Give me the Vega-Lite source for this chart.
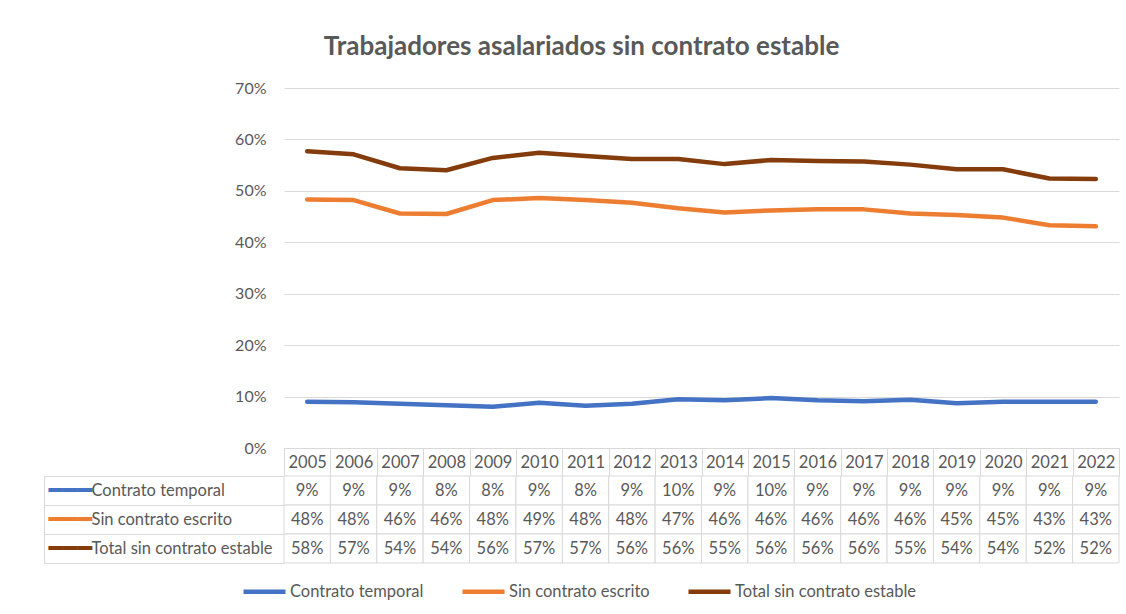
{
  "$schema": "https://vega.github.io/schema/vega-lite/v6.json",
  "padding": {"left": 43, "top": 34, "right": 8, "bottom": 5},
  "background": "white",
  "title": {"text": "Trabajadores asalariados sin contrato estable", "font": "Lato", "fontSize": 26, "fontWeight": "bold", "color": "#595959", "anchor": "middle", "offset": 20},
  "config": {"font": "Lato", "view": {"stroke": null}},
  "datasets": {
    "rows": [
      {"year": 2005, "series": "Contrato temporal", "value": 0.090},
      {"year": 2006, "series": "Contrato temporal", "value": 0.089},
      {"year": 2007, "series": "Contrato temporal", "value": 0.086},
      {"year": 2008, "series": "Contrato temporal", "value": 0.083},
      {"year": 2009, "series": "Contrato temporal", "value": 0.080},
      {"year": 2010, "series": "Contrato temporal", "value": 0.088},
      {"year": 2011, "series": "Contrato temporal", "value": 0.082},
      {"year": 2012, "series": "Contrato temporal", "value": 0.086},
      {"year": 2013, "series": "Contrato temporal", "value": 0.095},
      {"year": 2014, "series": "Contrato temporal", "value": 0.093},
      {"year": 2015, "series": "Contrato temporal", "value": 0.097},
      {"year": 2016, "series": "Contrato temporal", "value": 0.093},
      {"year": 2017, "series": "Contrato temporal", "value": 0.091},
      {"year": 2018, "series": "Contrato temporal", "value": 0.094},
      {"year": 2019, "series": "Contrato temporal", "value": 0.087},
      {"year": 2020, "series": "Contrato temporal", "value": 0.090},
      {"year": 2021, "series": "Contrato temporal", "value": 0.090},
      {"year": 2022, "series": "Contrato temporal", "value": 0.090},
      {"year": 2005, "series": "Sin contrato escrito", "value": 0.483},
      {"year": 2006, "series": "Sin contrato escrito", "value": 0.482},
      {"year": 2007, "series": "Sin contrato escrito", "value": 0.456},
      {"year": 2008, "series": "Sin contrato escrito", "value": 0.455},
      {"year": 2009, "series": "Sin contrato escrito", "value": 0.482},
      {"year": 2010, "series": "Sin contrato escrito", "value": 0.486},
      {"year": 2011, "series": "Sin contrato escrito", "value": 0.482},
      {"year": 2012, "series": "Sin contrato escrito", "value": 0.477},
      {"year": 2013, "series": "Sin contrato escrito", "value": 0.466},
      {"year": 2014, "series": "Sin contrato escrito", "value": 0.458},
      {"year": 2015, "series": "Sin contrato escrito", "value": 0.462},
      {"year": 2016, "series": "Sin contrato escrito", "value": 0.464},
      {"year": 2017, "series": "Sin contrato escrito", "value": 0.464},
      {"year": 2018, "series": "Sin contrato escrito", "value": 0.456},
      {"year": 2019, "series": "Sin contrato escrito", "value": 0.453},
      {"year": 2020, "series": "Sin contrato escrito", "value": 0.448},
      {"year": 2021, "series": "Sin contrato escrito", "value": 0.433},
      {"year": 2022, "series": "Sin contrato escrito", "value": 0.431},
      {"year": 2005, "series": "Total sin contrato estable", "value": 0.577},
      {"year": 2006, "series": "Total sin contrato estable", "value": 0.571},
      {"year": 2007, "series": "Total sin contrato estable", "value": 0.544},
      {"year": 2008, "series": "Total sin contrato estable", "value": 0.540},
      {"year": 2009, "series": "Total sin contrato estable", "value": 0.564},
      {"year": 2010, "series": "Total sin contrato estable", "value": 0.574},
      {"year": 2011, "series": "Total sin contrato estable", "value": 0.568},
      {"year": 2012, "series": "Total sin contrato estable", "value": 0.562},
      {"year": 2013, "series": "Total sin contrato estable", "value": 0.562},
      {"year": 2014, "series": "Total sin contrato estable", "value": 0.552},
      {"year": 2015, "series": "Total sin contrato estable", "value": 0.560},
      {"year": 2016, "series": "Total sin contrato estable", "value": 0.558},
      {"year": 2017, "series": "Total sin contrato estable", "value": 0.557},
      {"year": 2018, "series": "Total sin contrato estable", "value": 0.551},
      {"year": 2019, "series": "Total sin contrato estable", "value": 0.542},
      {"year": 2020, "series": "Total sin contrato estable", "value": 0.542},
      {"year": 2021, "series": "Total sin contrato estable", "value": 0.524},
      {"year": 2022, "series": "Total sin contrato estable", "value": 0.523}
    ]
  },
  "data": {"name": "rows"},
  "bounds": "flush",
  "spacing": 28,
  "vconcat": [
    {
      "width": 835,
      "height": 360,
      "mark": {"type": "line", "strokeWidth": 4.5, "strokeCap": "round", "strokeJoin": "round"},
      "encoding": {
        "x": {
          "field": "year", "type": "ordinal", "bandPosition": 0.5,
          "scale": {"type": "band", "paddingInner": 0, "paddingOuter": 0},
          "axis": {"title": null, "labelAngle": 0, "domainColor": "#d9d9d9", "tickColor": "#d9d9d9", "tickSize": 28, "tickBand": "extent", "labelPadding": -22, "labelFontSize": 16.5, "labelColor": "#595959", "grid": false}
        },
        "y": {
          "field": "value", "type": "quantitative",
          "scale": {"domain": [0, 0.7]},
          "axis": {"title": null, "format": ".0%", "values": [0, 0.1, 0.2, 0.3, 0.4, 0.5, 0.6, 0.7], "domain": false, "ticks": false, "labelPadding": 18, "labelFontSize": 16, "labelColor": "#595959", "gridColor": "#d9d9d9", "gridWidth": 1}
        },
        "color": {
          "field": "series", "type": "nominal",
          "scale": {"domain": ["Contrato temporal", "Sin contrato escrito", "Total sin contrato estable"], "range": ["#4472C4", "#ED7D31", "#843C0C"]},
          "legend": {"orient": "none", "legendX": -43, "legendY": 480, "direction": "horizontal", "title": null, "symbolType": "stroke", "symbolSize": 1764, "symbolStrokeWidth": 4.5, "labelFont": "Lato", "labelFontSize": 16.5, "labelColor": "#595959", "columnPadding": 29, "labelOffset": 2, "labelLimit": 0}
        }
      }
    },
    {
      "width": 835,
      "height": 87,
      "resolve": {"axis": {"y": "independent"}},
      "layer": [
        {
          "mark": {"type": "rect", "fill": "white", "stroke": "#d9d9d9", "strokeWidth": 1},
          "encoding": {
            "x": {"field": "year", "type": "ordinal", "scale": {"type": "band", "paddingInner": 0, "paddingOuter": 0}, "axis": null},
            "y": {
              "field": "series", "type": "nominal",
              "scale": {"domain": ["Contrato temporal", "Sin contrato escrito", "Total sin contrato estable"], "paddingInner": 0, "paddingOuter": 0},
              "axis": {"orient": "left", "offset": 240, "title": null, "domainColor": "#d9d9d9", "tickColor": "#d9d9d9", "tickSize": -240, "tickBand": "extent", "labelAlign": "left", "labelPadding": 193, "labelFontSize": 16.5, "labelColor": "#595959", "labelLimit": 0, "grid": false}
            }
          }
        },
        {
          "mark": {"type": "text", "fontSize": 16.5, "color": "#595959"},
          "encoding": {
            "x": {"field": "year", "type": "ordinal", "bandPosition": 0.5, "scale": {"type": "band", "paddingInner": 0, "paddingOuter": 0}, "axis": null},
            "y": {
              "field": "series", "type": "nominal", "bandPosition": 0.5,
              "scale": {"domain": ["Contrato temporal", "Sin contrato escrito", "Total sin contrato estable"], "paddingInner": 0, "paddingOuter": 0},
              "axis": {"orient": "left", "offset": 240, "title": null, "domain": false, "ticks": false, "grid": false, "labelAlign": "left", "labelPadding": -4, "labelExpr": "'━━━'", "labelFont": "DejaVu Sans Mono", "labelFontSize": 24, "labelLimit": 0,
                "labelColor": {"condition": [{"test": "datum.value === 'Contrato temporal'", "value": "#4472C4"}, {"test": "datum.value === 'Sin contrato escrito'", "value": "#ED7D31"}], "value": "#843C0C"}}
            },
            "text": {"field": "value", "type": "quantitative", "format": ".0%"}
          }
        }
      ]
    }
  ]
}
